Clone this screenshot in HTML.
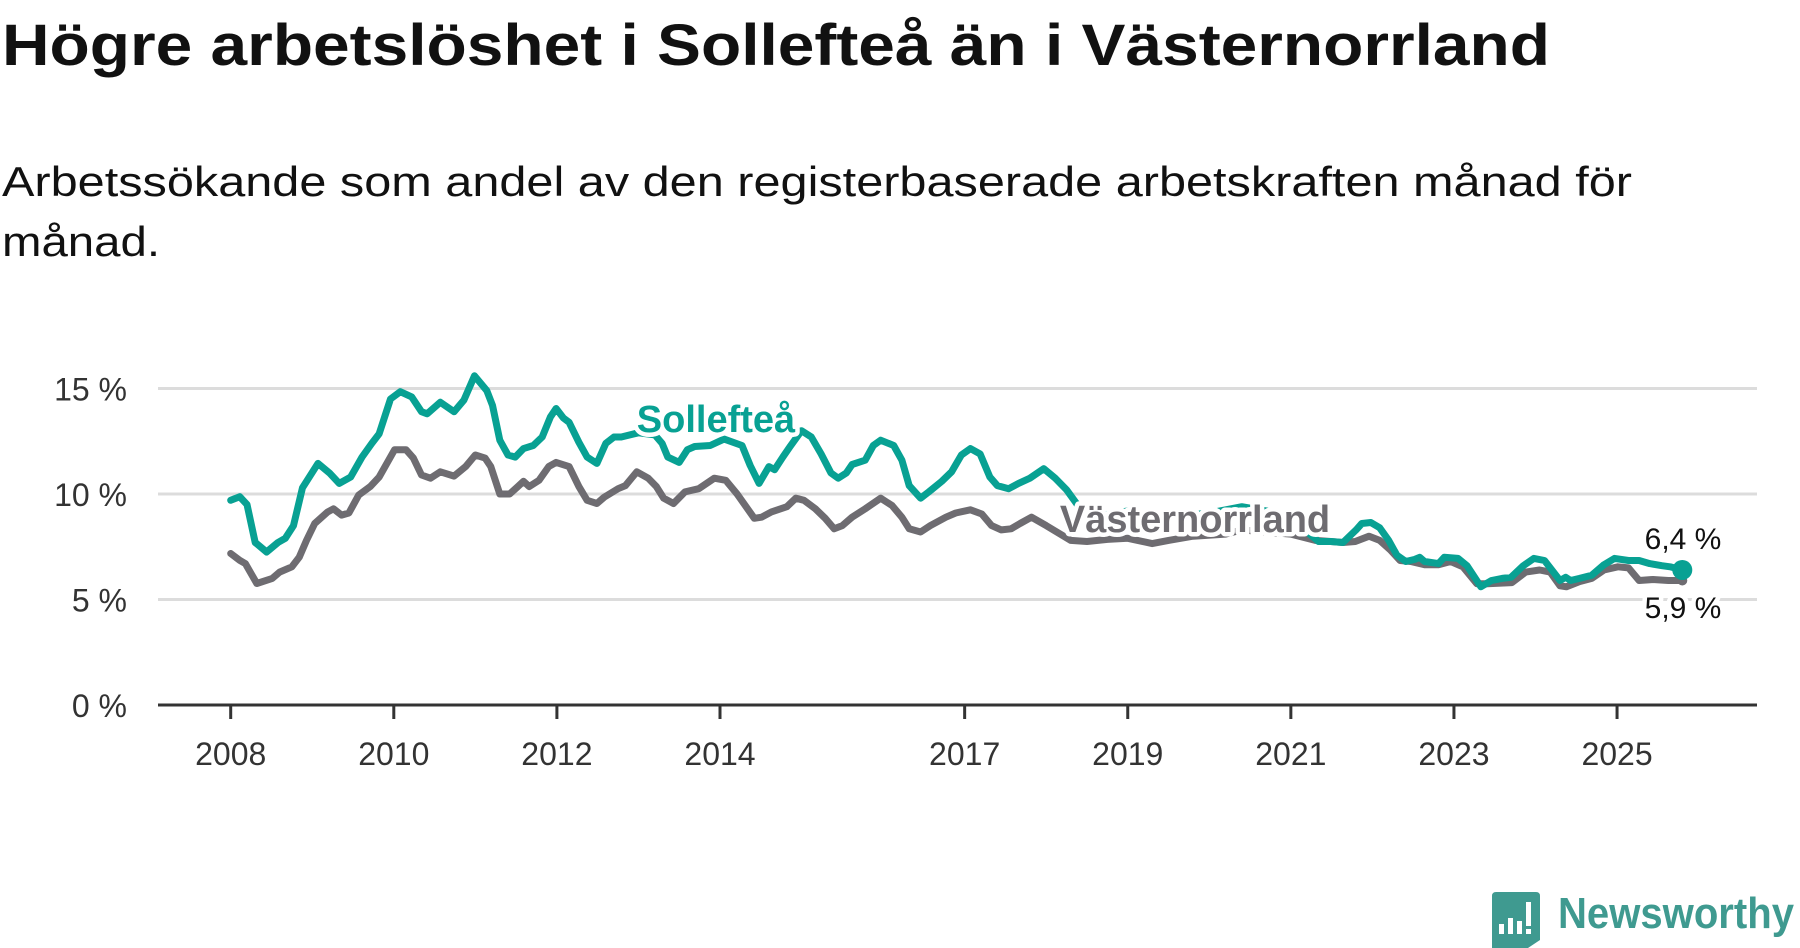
<!DOCTYPE html>
<html><head><meta charset="utf-8"><style>
html,body{margin:0;padding:0;background:#fff;}
svg{display:block;font-family:"Liberation Sans",sans-serif;}
.halo{paint-order:stroke;stroke:#fff;stroke-width:9px;stroke-linejoin:round;}
</style></head><body>
<svg id="chart" width="1800" height="948" viewBox="0 0 1800 948" xmlns="http://www.w3.org/2000/svg">
<text x="2" y="65" font-size="58" font-weight="bold" fill="#111" textLength="1548" lengthAdjust="spacingAndGlyphs">Högre arbetslöshet i Sollefteå än i Västernorrland</text>
<text x="2" y="196" font-size="42" fill="#111" textLength="1630" lengthAdjust="spacingAndGlyphs">Arbetssökande som andel av den registerbaserade arbetskraften månad för</text>
<text x="2" y="256" font-size="42" fill="#111" textLength="158" lengthAdjust="spacingAndGlyphs">månad.</text>
<g id="grid"></g>
<g id="xaxis"></g>
<g id="series"></g>
<g id="labels"></g>
<g>
<path d="M1492 892 h44 q4 0 4 4 v44 l-12 8 h-36 v-52 q0-4 4-4z" fill="#3f9a90"/>
<rect x="1499" y="924" width="5" height="10" fill="#fff"/>
<rect x="1508" y="918" width="5" height="16" fill="#fff"/>
<rect x="1517" y="921" width="5" height="13" fill="#fff"/>
<rect x="1526" y="902" width="5" height="24" fill="#fff"/>
<rect x="1526" y="929" width="5" height="5" fill="#fff"/>
<text x="1558" y="928" font-size="44" font-weight="bold" fill="#3f9a90" textLength="236" lengthAdjust="spacingAndGlyphs">Newsworthy</text>
</g>
</svg>
<script>
const yTicks = [0, 5, 10, 15];
const yTickLabels = ["0 %", "5 %", "10 %", "15 %"];
const xTicks = [2008, 2010, 2012, 2014, 2017, 2019, 2021, 2023, 2025];
const xTickLabels = ["2008", "2010", "2012", "2014", "2017", "2019", "2021", "2023", "2025"];
const solYears = [2008.0,2008.11,2008.2,2008.3,2008.44,2008.58,2008.67,2008.77,2008.88,2009.07,2009.21,2009.33,2009.47,2009.61,2009.73,2009.82,2009.96,2010.08,2010.22,2010.34,2010.41,2010.57,2010.74,2010.86,2010.99,2011.14,2011.21,2011.3,2011.4,2011.49,2011.59,2011.71,2011.82,2011.92,2011.99,2012.08,2012.15,2012.27,2012.37,2012.49,2012.6,2012.7,2012.79,2013.0,2013.2,2013.29,2013.36,2013.5,2013.6,2013.69,2013.88,2014.05,2014.27,2014.37,2014.48,2014.6,2014.67,2014.77,2014.86,2015.0,2015.12,2015.24,2015.36,2015.45,2015.55,2015.62,2015.78,2015.88,2015.97,2016.13,2016.23,2016.32,2016.46,2016.56,2016.72,2016.84,2016.96,2017.07,2017.19,2017.31,2017.4,2017.54,2017.66,2017.8,2017.97,2018.11,2018.25,2018.4,2018.7,2019.0,2019.5,2020.0,2020.4,2020.7,2021.0,2021.2,2021.34,2021.49,2021.64,2021.8,2021.87,2021.98,2022.09,2022.2,2022.3,2022.41,2022.52,2022.58,2022.64,2022.81,2022.88,2023.05,2023.16,2023.33,2023.46,2023.59,2023.7,2023.85,2023.98,2024.11,2024.19,2024.3,2024.37,2024.43,2024.54,2024.69,2024.84,2024.97,2025.14,2025.27,2025.4,2025.55,2025.65,2025.8];
const solValues = [9.7,9.87,9.5,7.7,7.25,7.7,7.9,8.5,10.3,11.45,11.0,10.5,10.8,11.75,12.4,12.85,14.5,14.85,14.6,13.9,13.8,14.35,13.9,14.45,15.6,14.9,14.2,12.55,11.85,11.75,12.15,12.3,12.7,13.65,14.05,13.6,13.4,12.45,11.75,11.45,12.4,12.7,12.7,12.9,12.8,12.4,11.75,11.5,12.1,12.25,12.3,12.6,12.3,11.35,10.5,11.3,11.15,11.75,12.25,13.0,12.7,11.9,11.0,10.75,11.0,11.4,11.6,12.3,12.55,12.3,11.6,10.4,9.8,10.1,10.6,11.05,11.85,12.15,11.9,10.8,10.4,10.25,10.5,10.75,11.2,10.75,10.2,9.4,9.0,9.2,8.9,9.1,9.4,9.2,8.9,8.2,7.75,7.75,7.7,8.3,8.6,8.65,8.4,7.8,7.1,6.8,6.9,7.0,6.8,6.7,7.0,6.95,6.6,5.6,5.9,6.0,6.05,6.6,6.95,6.85,6.45,5.9,6.05,5.9,6.0,6.15,6.65,6.95,6.85,6.85,6.7,6.6,6.55,6.4];
const vnYears = [2008.0,2008.11,2008.18,2008.32,2008.51,2008.6,2008.75,2008.84,2008.93,2009.03,2009.19,2009.26,2009.36,2009.45,2009.57,2009.71,2009.82,2010.01,2010.15,2010.24,2010.34,2010.45,2010.57,2010.74,2010.88,2011.0,2011.12,2011.19,2011.3,2011.42,2011.52,2011.59,2011.66,2011.78,2011.9,2011.99,2012.15,2012.27,2012.37,2012.49,2012.58,2012.75,2012.84,2012.98,2013.12,2013.22,2013.31,2013.43,2013.57,2013.74,2013.93,2014.07,2014.21,2014.42,2014.51,2014.63,2014.82,2014.93,2015.03,2015.17,2015.29,2015.4,2015.5,2015.62,2015.78,2015.97,2016.11,2016.23,2016.32,2016.46,2016.58,2016.77,2016.89,2017.07,2017.21,2017.33,2017.45,2017.57,2017.68,2017.82,2018.0,2018.3,2018.5,2018.75,2019.0,2019.3,2019.5,2019.8,2020.2,2020.4,2020.7,2021.0,2021.3,2021.49,2021.64,2021.79,2021.96,2022.09,2022.22,2022.34,2022.47,2022.64,2022.81,2022.96,2023.11,2023.28,2023.41,2023.71,2023.88,2024.05,2024.18,2024.3,2024.38,2024.54,2024.69,2024.84,2025.01,2025.14,2025.27,2025.44,2025.63,2025.8];
const vnValues = [7.18,6.86,6.7,5.76,6.0,6.3,6.55,7.0,7.8,8.6,9.15,9.3,9.0,9.1,9.95,10.35,10.8,12.1,12.1,11.7,10.9,10.75,11.05,10.85,11.3,11.85,11.7,11.3,10.0,10.0,10.35,10.6,10.35,10.65,11.3,11.5,11.3,10.35,9.7,9.55,9.85,10.25,10.4,11.05,10.75,10.35,9.8,9.55,10.1,10.25,10.75,10.65,10.0,8.85,8.9,9.15,9.4,9.8,9.7,9.3,8.85,8.35,8.5,8.9,9.3,9.8,9.45,8.9,8.35,8.2,8.5,8.9,9.1,9.25,9.05,8.5,8.3,8.35,8.6,8.9,8.5,7.8,7.75,7.85,7.9,7.65,7.8,8.0,8.1,8.3,8.2,8.1,7.8,7.75,7.7,7.75,8.0,7.8,7.35,6.85,6.8,6.65,6.65,6.8,6.55,5.75,5.75,5.8,6.3,6.4,6.3,5.65,5.6,5.85,6.0,6.4,6.55,6.5,5.9,5.95,5.9,5.9];

const NS = "http://www.w3.org/2000/svg";
const X0 = 158, X1 = 1757;
function xScale(yr){ return 230.7 + (yr - 2008) * 81.55; }
function yScale(v){ return 705 - v * 21.1; }
function mk(tag, attrs, parent){ const e = document.createElementNS(NS, tag); for (const k in attrs) e.setAttribute(k, attrs[k]); parent.appendChild(e); return e; }

const grid = document.getElementById('grid');
yTicks.forEach((t, i) => {
  if (t > 0) {
    const l = mk('line', {x1: X0, x2: X1, y1: yScale(t), y2: yScale(t), stroke: '#dcdcdc', 'stroke-width': 3}, grid);
    
    
  }
  const tx = mk('text', {x: 127, y: yScale(t) + 12, 'text-anchor': 'end', 'font-size': 32, fill: '#333'}, grid);
  tx.textContent = yTickLabels[i];
  
  
});
const xa = document.getElementById('xaxis');
const axl = mk('line', {x1: X0, x2: X1, y1: 705, y2: 705, stroke: '#333', 'stroke-width': 3}, xa);


xTicks.forEach((t, i) => {
  const tk = mk('line', {x1: xScale(t), x2: xScale(t), y1: 705, y2: 719, stroke: '#333', 'stroke-width': 3}, xa);
  
  
  const tx = mk('text', {x: xScale(t), y: 765, 'text-anchor': 'middle', 'font-size': 32, fill: '#333'}, xa);
  tx.textContent = xTickLabels[i];
  
  
});

const series = document.getElementById('series');
function pts(ys, vs){ return ys.map((y, i) => xScale(y).toFixed(1) + ',' + yScale(vs[i]).toFixed(1)).join(' '); }
const gl = mk('polyline', {points: pts(vnYears, vnValues), fill: 'none', stroke: '#6e6c71', 'stroke-width': 7, 'stroke-linejoin': 'round', 'stroke-linecap': 'round'}, series);


const tl = mk('polyline', {points: pts(solYears, solValues), fill: 'none', stroke: '#08a193', 'stroke-width': 7, 'stroke-linejoin': 'round', 'stroke-linecap': 'round'}, series);


const nS = solYears.length - 1, nV = vnYears.length - 1;
const dv = mk('circle', {cx: xScale(vnYears[nV]), cy: yScale(vnValues[nV]), r: 5, fill: '#6e6c71'}, series);


const ds = mk('circle', {cx: xScale(solYears[nS]), cy: yScale(solValues[nS]), r: 10, fill: '#08a193'}, series);



const labels = document.getElementById('labels');
const l1 = mk('text', {x: 716, y: 432, 'text-anchor': 'middle', 'font-size': 38, 'font-weight': 'bold', fill: '#08a193', class: 'halo'}, labels);
l1.textContent = 'Sollefteå';


const l2 = mk('text', {x: 1195, y: 532, 'text-anchor': 'middle', 'font-size': 38, 'font-weight': 'bold', fill: '#6e6c71', class: 'halo'}, labels);
l2.textContent = 'Västernorrland';


const e1 = mk('text', {x: 1683, y: 549, 'text-anchor': 'middle', 'font-size': 30, fill: '#111', class: 'halo'}, labels);
e1.textContent = (solValues[nS].toFixed(1).replace('.', ',')) + ' %';


const e2 = mk('text', {x: 1683, y: 618, 'text-anchor': 'middle', 'font-size': 30, fill: '#111', class: 'halo'}, labels);
e2.textContent = (vnValues[nV].toFixed(1).replace('.', ',')) + ' %';


</script>
</body></html>
